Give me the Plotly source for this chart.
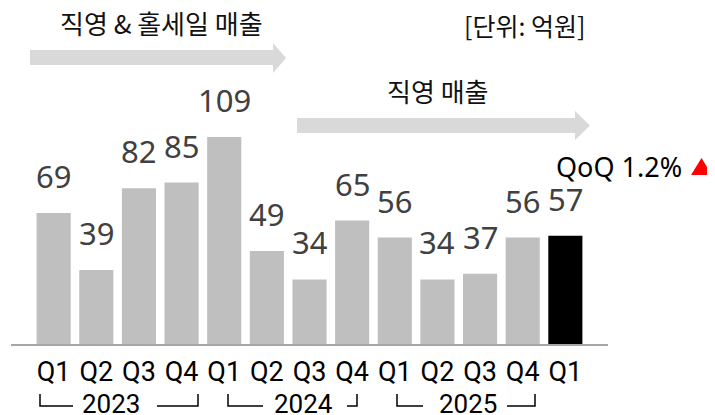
import plotly.graph_objects as go

# ---- data ----
quarters = ["Q1", "Q2", "Q3", "Q4", "Q1", "Q2", "Q3", "Q4", "Q1", "Q2", "Q3", "Q4", "Q1"]
year_labels = ["2023", "2024", "2025"]
sales = [69, 39, 82, 85, 109, 49, 34, 65, 56, 34, 37, 56, 57]
title_left = "직영 & 홀세일 매출"
title_right = "직영 매출"
unit_text = "[단위: 억원]"
qoq_text = "QoQ 1.2%"

# ---- layout geometry (page has an 8px body margin) ----
OFF = 8
W, H = 715 - OFF, 415 - OFF
L, R, T, B = 3, 107, 32, 71
PW, PH = W - L - R, H - T - B


def px(x):
    # x given in screen pixels
    return (x - OFF - L) / PW


def py(y):
    # y given in screen pixels
    return (H - B - (y - OFF)) / PH


xs = list(range(len(sales)))
colors = ["#bfbfbf"] * (len(sales) - 1) + ["#000000"]

fig = go.Figure(
    go.Bar(x=xs, y=sales, marker_color=colors, marker_line_width=0,
           hoverinfo="skip", showlegend=False)
)

ann = []
for i, v in enumerate(sales):
    ann.append(dict(x=i, y=v, xref="x", yref="y", text=str(v), showarrow=False,
                    yanchor="bottom", yshift=14,
                    font=dict(family="Noto Sans", size=31, color="#404040")))

KR = "Noto Sans CJK KR"
ann.append(dict(x=px(161.5), y=py(22), xref="paper", yref="paper", text=title_left,
                showarrow=False, xanchor="center", yanchor="middle",
                font=dict(family=KR, size=26, color="#111111")))
ann.append(dict(x=px(524), y=py(25), xref="paper", yref="paper", text=unit_text,
                showarrow=False, xanchor="center", yanchor="middle",
                font=dict(family=KR, size=25, color="#111111")))
ann.append(dict(x=px(438), y=py(90), xref="paper", yref="paper", text=title_right,
                showarrow=False, xanchor="center", yanchor="middle",
                font=dict(family=KR, size=26, color="#111111")))
ann.append(dict(x=px(684), y=py(166), xref="paper", yref="paper",
                text=qoq_text,
                showarrow=False, xanchor="right", yanchor="middle",
                font=dict(family="Noto Sans", size=27, color="#000000")))

# year labels
year_centers_px = [111, 303, 468]
for yl, cx in zip(year_labels, year_centers_px):
    ann.append(dict(x=px(cx), y=py(404), xref="paper", yref="paper", text=yl,
                    showarrow=False, xanchor="center", yanchor="middle",
                    font=dict(family="Roboto", size=26, color="#000000")))

shapes = []


def poly(pts, color):
    path = "M " + " L ".join(f"{px(a):.5f},{py(b):.5f}" for a, b in pts) + " Z"
    return dict(type="path", xref="paper", yref="paper", path=path,
                fillcolor=color, line=dict(width=0))


def arrow(x0, x1, xt, ys0, ys1, yh0, yh1):
    ym = (yh0 + yh1) / 2
    pts = [(x0, ys0), (x1, ys0), (x1, yh0), (xt, ym), (x1, yh1), (x1, ys1), (x0, ys1)]
    return poly(pts, "#d9d9d9")


shapes.append(arrow(30, 273, 286, 50, 65, 43, 73))
shapes.append(arrow(297, 575, 590, 118, 133, 111, 140))
# red "up" triangle next to QoQ
shapes.append(poly([(691, 175), (701.5, 158), (712, 175)], "#ff0000"))

# year brackets (screen pixel positions)
brackets = [
    (40, 40, 73), (198, 157, 198),
    (228, 228, 263), (357, 347, 357),
    (397, 397, 423), (535, 507, 535),
]
for vx, hx0, hx1 in brackets:
    if vx == hx0:
        path = f"M {px(vx):.5f},{py(394):.5f} L {px(vx):.5f},{py(406):.5f} L {px(hx1):.5f},{py(406):.5f}"
    else:
        path = f"M {px(hx0):.5f},{py(406):.5f} L {px(vx):.5f},{py(406):.5f} L {px(vx):.5f},{py(394):.5f}"
    shapes.append(dict(type="path", xref="paper", yref="paper", path=path,
                       line=dict(color="#000000", width=1.5)))

fig.update_layout(
    width=W, height=H,
    margin=dict(l=L, r=R, t=T, b=B, pad=0),
    paper_bgcolor="white", plot_bgcolor="white",
    bargap=0.2,
    annotations=ann,
    shapes=shapes,
    xaxis=dict(range=[-1, 13], tickvals=xs, ticktext=quarters,
               showgrid=False, zeroline=False, showline=True,
               linecolor="#a6a6a6", linewidth=2, ticks="",
               ticklabelstandoff=3,
               tickfont=dict(family="Roboto", size=27, color="#000000"),
               fixedrange=True),
    yaxis=dict(range=[0, 160], visible=False, fixedrange=True),
)

fig.write_html("out.html")
